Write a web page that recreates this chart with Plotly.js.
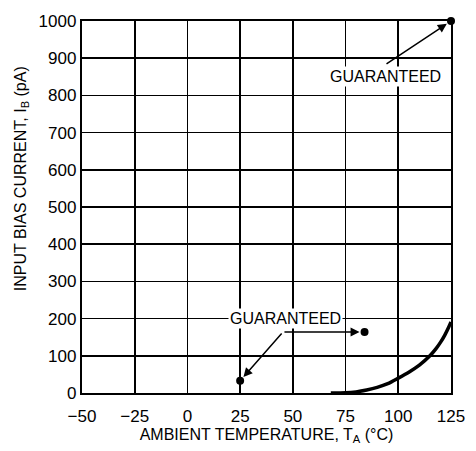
<!DOCTYPE html>
<html>
<head>
<meta charset="utf-8">
<script src="https://cdn.plot.ly/plotly-3.0.1.min.js"></script>
<style>html,body{margin:0;padding:0;background:#fff;}#chart{width:476px;height:451px;}</style>
</head>
<body>
<div id="chart"></div>
<script>
// Typical input bias current curve
var curveTemp = [68, 75, 80, 85, 90, 95, 100, 105, 110, 115, 118, 120, 122, 124, 125];
var curveIb   = [0, 0.5, 3, 8, 15, 25, 40, 56, 75, 100, 120, 136, 155, 178, 191];
// Guaranteed points
var guarTemp = [25, 84, 125];
var guarIb   = [33, 164, 1000];
// Tick labels
var xTickVals = [-50, -25, 0, 25, 50, 75, 100, 125];
var xTickText = ["\u221250", "\u221225", "0", "25", "50", "75", "100", "125"];
var yTickVals = [0, 100, 200, 300, 400, 500, 600, 700, 800, 900, 1000];

var FONT = '"Liberation Sans Narrow", "Liberation Sans", Arial, sans-serif';

var traces = [
  {x: curveTemp, y: curveIb, mode: 'lines', line: {color: '#000', width: 3.5, shape: 'spline', smoothing: 0.8}, hoverinfo: 'skip', cliponaxis: false},
  {x: guarTemp, y: guarIb, mode: 'markers', marker: {color: '#000', size: 8}, cliponaxis: false}
];

var layout = {
  width: 476, height: 451,
  margin: {l: 82, r: 25, t: 21, b: 58},
  paper_bgcolor: '#fff', plot_bgcolor: '#fff',
  showlegend: false,
  font: {family: FONT, color: '#000', size: 17},
  xaxis: {
    range: [-50, 125], tickvals: xTickVals, ticktext: xTickText,
    showgrid: true, gridcolor: '#000', gridwidth: 1.6,
    zeroline: false, showline: true, linecolor: '#000', linewidth: 2.2, mirror: true,
    ticks: '', ticklabelstandoff: 6, tickfont: {family: FONT, size: 17, color: '#000'},
    title: {text: 'AMBIENT TEMPERATURE, T<sub>A</sub> (\u00B0C)', font: {family: FONT, size: 16, color: '#000'}, standoff: 4}
  },
  yaxis: {
    range: [0, 1000], tickvals: yTickVals,
    showgrid: true, gridcolor: '#000', gridwidth: 1.6,
    zeroline: false, showline: true, linecolor: '#000', linewidth: 2.2, mirror: true,
    ticks: '', tickfont: {family: FONT, size: 17, color: '#000'}
  },
  annotations: [
    {xref: 'paper', yref: 'paper', x: -0.165, y: 0.575, xanchor: 'center', yanchor: 'middle',
     text: 'INPUT BIAS CURRENT, I<sub>B</sub> (pA)', textangle: -90, showarrow: false,
     font: {family: FONT, size: 16, color: '#000'}},
    {x: 46.7, y: 200, xref: 'x', yref: 'y', text: 'GUARANTEED', showarrow: false,
     bgcolor: '#fff', borderpad: 1, font: {family: FONT, size: 16, color: '#000'}},
    {x: 93.7, y: 850, xref: 'x', yref: 'y', text: 'GUARANTEED', showarrow: false,
     bgcolor: '#fff', borderpad: 1, font: {family: FONT, size: 16, color: '#000'}},
    {x: 84, y: 164, xref: 'x', yref: 'y', ax: 45.3, ay: 164, axref: 'x', ayref: 'y',
     text: '', showarrow: true, arrowhead: 2, arrowsize: 1.2, arrowwidth: 1.5, arrowcolor: '#000', standoff: 5},
    {x: 25, y: 33, xref: 'x', yref: 'y', ax: 45.3, ay: 164, axref: 'x', ayref: 'y',
     text: '', showarrow: true, arrowhead: 2, arrowsize: 1.2, arrowwidth: 1.5, arrowcolor: '#000', standoff: 5},
    {x: 125, y: 1000, xref: 'x', yref: 'y', ax: 93.7, ay: 882, axref: 'x', ayref: 'y',
     text: '', showarrow: true, arrowhead: 2, arrowsize: 1.2, arrowwidth: 1.5, arrowcolor: '#000', standoff: 5}
  ]
};

Plotly.newPlot('chart', traces, layout, {staticPlot: true, displayModeBar: false});
</script>
</body>
</html>
